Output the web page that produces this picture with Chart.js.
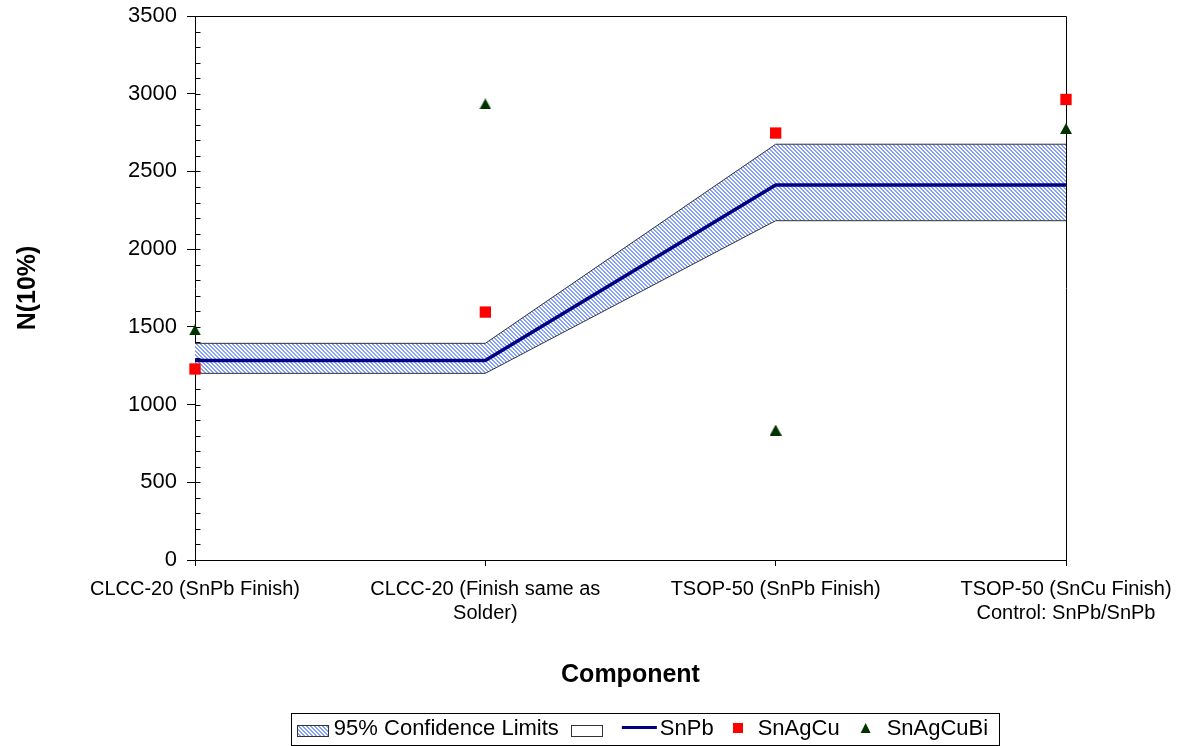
<!DOCTYPE html>
<html>
<head>
<meta charset="utf-8">
<title>N(10%) by component</title>
<script src="https://cdn.jsdelivr.net/npm/chart.js@4.4.0/dist/chart.umd.min.js"></script>
<style>
  html, body { margin: 0; padding: 0; background: #fff; }
  #wrap { width: 1177px; height: 746px; }
</style>
</head>
<body>
<div id="wrap"><canvas id="chart" width="1177" height="746"></canvas></div>
<script>
const categories = [
    'CLCC-20 (SnPb Finish)',
    ['CLCC-20 (Finish same as', 'Solder)'],
    'TSOP-50 (SnPb Finish)',
    ['TSOP-50 (SnCu Finish)', 'Control: SnPb/SnPb'],
];
const snpb = [1283, 1283, 2413, 2413];
const upperLimit = [1394, 1394, 2675, 2675];
const lowerLimit = [1201, 1201, 2183, 2183];
const snagcu = [1229, 1595, 2747, 2963];
const snagcubi = [1480, 2934, 836, 2776];
const yTickValues = [0, 500, 1000, 1500, 2000, 2500, 3000, 3500];

const FONT = '"Liberation Sans", Arial, sans-serif';
Chart.defaults.font.family = FONT;
Chart.defaults.color = '#000';

function hatchPattern() {
    const c = document.createElement('canvas');
    c.width = 4;
    c.height = 4;
    const g = c.getContext('2d');
    g.fillStyle = '#ffffff';
    g.fillRect(0, 0, 4, 4);
    g.fillStyle = '#86a2f8';
    for (let y = 0; y < 4; y++) {
        for (let x = 0; x < 4; x++) {
            if (((x - y) % 4 + 4) % 4 < 2) g.fillRect(x, y, 1, 1);
        }
    }
    return g.createPattern(c, 'repeat');
}

// centred triangle marker (the built-in one sits a little high)
function triangleMarker(color) {
    const c = document.createElement('canvas');
    c.width = 12;
    c.height = 11;
    const g = c.getContext('2d');
    g.fillStyle = color;
    g.beginPath();
    g.moveTo(6, 0);
    g.lineTo(12, 11);
    g.lineTo(0, 11);
    g.closePath();
    g.fill();
    return c;
}

const hatch = hatchPattern();
const GREEN = '#003300';

// plot frame + minor ticks on the value axis
const axisDetails = {
    id: 'axisDetails',
    beforeDatasetsDraw(chart) {
        const { ctx, chartArea: a, scales: { y } } = chart;
        ctx.save();
        ctx.strokeStyle = '#000';
        ctx.lineWidth = 1;
        const l = Math.round(a.left) + 0.5;
        const t = Math.round(a.top) + 0.5;
        const r = Math.round(a.right) + 0.5;
        const b = Math.round(a.bottom) + 0.5;
        ctx.beginPath();
        ctx.moveTo(l, t);
        ctx.lineTo(r, t);
        ctx.lineTo(r, b);
        ctx.stroke();
        ctx.beginPath();
        for (let v = y.min; v <= y.max; v += 100) {
            const py = Math.round(y.getPixelForValue(v)) + 0.5;
            ctx.moveTo(l, py);
            ctx.lineTo(l + 5, py);
        }
        ctx.stroke();
        ctx.restore();
    },
};

// excel-style boxed legend
const legendSymbols = [
    { ds: 3, kind: 'hatch', before: 0, after: 6 },
    { ds: 4, kind: 'empty', before: 12, after: 0 },
    { ds: 2, kind: 'line', before: 20, after: 3 },
    { ds: 0, kind: 'square', before: 19, after: 15 },
    { ds: 1, kind: 'triangle', before: 21, after: 16 },
];
const symbolWidth = { hatch: 31, empty: 31, line: 35, square: 10, triangle: 10 };

const boxLegend = {
    id: 'boxLegend',
    afterDraw(chart) {
        const { ctx } = chart;
        const datasets = chart.data.datasets;
        ctx.save();
        ctx.font = '22px ' + FONT;
        ctx.textBaseline = 'middle';
        const items = legendSymbols.map((s) => {
            const text = datasets[s.ds].label;
            return { ...s, text, tw: text ? ctx.measureText(text).width : 0 };
        });
        const total = items.reduce((sum, it) => sum + it.before + symbolWidth[it.kind] + it.after + it.tw, 0);
        const padL = 6, padR = 11;
        const center = 645;
        let x = center - (total + padL + padR) / 2;
        const top = 713, bottom = 745, cy = 729;

        ctx.strokeStyle = '#000';
        ctx.lineWidth = 1;
        ctx.strokeRect(Math.round(x) + 0.5, top + 0.5, Math.round(total + padL + padR), bottom - top);
        x += padL;

        items.forEach((it) => {
            x += it.before;
            const w = symbolWidth[it.kind];
            const ds = datasets[it.ds];
            if (it.kind === 'hatch' || it.kind === 'empty') {
                ctx.fillStyle = it.kind === 'hatch' ? hatch : '#fff';
                ctx.fillRect(Math.round(x), 725, w, 11);
                ctx.strokeStyle = '#333';
                ctx.strokeRect(Math.round(x) + 0.5, 725.5, w, 11);
            } else if (it.kind === 'line') {
                ctx.strokeStyle = ds.borderColor;
                ctx.lineWidth = 3;
                ctx.beginPath();
                ctx.moveTo(x, 727.5);
                ctx.lineTo(x + w, 727.5);
                ctx.stroke();
                ctx.lineWidth = 1;
            } else if (it.kind === 'square') {
                ctx.fillStyle = ds.pointBackgroundColor;
                ctx.fillRect(Math.round(x), 723, 10, 10);
            } else {
                ctx.fillStyle = GREEN;
                ctx.beginPath();
                ctx.moveTo(x + 5, 723);
                ctx.lineTo(x + 10, 733);
                ctx.lineTo(x, 733);
                ctx.closePath();
                ctx.fill();
            }
            x += w + it.after;
            if (it.text) {
                ctx.fillStyle = '#000';
                ctx.fillText(it.text, x, cy);
                x += it.tw;
            }
        });
        ctx.restore();
    },
};

new Chart(document.getElementById('chart'), {
    type: 'line',
    data: {
        labels: categories,
        datasets: [
            {
                label: 'SnAgCu',
                data: snagcu,
                showLine: false,
                pointStyle: 'rect',
                pointRadius: 8,
                pointBorderWidth: 0,
                pointBackgroundColor: '#ff0000',
                pointBorderColor: '#ff0000',
                order: 0,
                clip: false,
            },
            {
                label: 'SnAgCuBi',
                data: snagcubi,
                showLine: false,
                pointStyle: triangleMarker(GREEN),
                pointRadius: 7,
                pointBorderWidth: 0,
                pointBackgroundColor: GREEN,
                pointBorderColor: GREEN,
                order: 0,
                clip: false,
            },
            {
                label: 'SnPb',
                data: snpb,
                borderColor: '#000080',
                borderWidth: 3.5,
                pointRadius: 0,
                fill: false,
                order: 1,
            },
            {
                label: '95% Confidence Limits',
                data: upperLimit,
                borderColor: '#333',
                borderWidth: 1,
                backgroundColor: hatch,
                pointRadius: 0,
                fill: '+1',
                order: 2,
            },
            {
                label: '',
                data: lowerLimit,
                borderColor: '#333',
                borderWidth: 1,
                pointRadius: 0,
                fill: false,
                order: 3,
            },
        ],
    },
    options: {
        responsive: false,
        animation: false,
        layout: { padding: { top: 16, right: 111, bottom: 50, left: 0 } },
        plugins: {
            legend: { display: false },
            tooltip: { enabled: false },
            filler: { drawTime: 'beforeDatasetsDraw' },
        },
        scales: {
            x: {
                type: 'category',
                offset: false,
                afterFit: (s) => {
                    s.height = 136;
                    s.paddingLeft = 0;
                    s.paddingRight = 0;
                },
                grid: { drawOnChartArea: false, tickLength: 6, color: '#000' },
                border: { color: '#000', width: 1 },
                ticks: { font: { size: 20 }, padding: 11, maxRotation: 0, autoSkip: false, color: '#000' },
                title: {
                    display: true,
                    text: 'Component',
                    font: { size: 25, weight: 'bold' },
                    padding: { top: 0, bottom: 6 },
                    color: '#000',
                },
            },
            y: {
                min: 0,
                max: 3500,
                afterFit: (s) => {
                    s.width = 195;
                    s.paddingTop = 0;
                    s.paddingBottom = 0;
                },
                afterBuildTicks: (s) => { s.ticks = yTickValues.map((v) => ({ value: v })); },
                grid: { drawOnChartArea: false, tickLength: 8, color: '#000' },
                border: { color: '#000', width: 1 },
                ticks: { font: { size: 22 }, padding: 10, color: '#000', callback: (v) => String(v) },
                title: {
                    display: true,
                    text: 'N(10%)',
                    font: { size: 25, weight: 'bold' },
                    padding: { top: 13, bottom: 0 },
                    color: '#000',
                },
            },
        },
    },
    plugins: [axisDetails, boxLegend],
});
</script>
</body>
</html>
